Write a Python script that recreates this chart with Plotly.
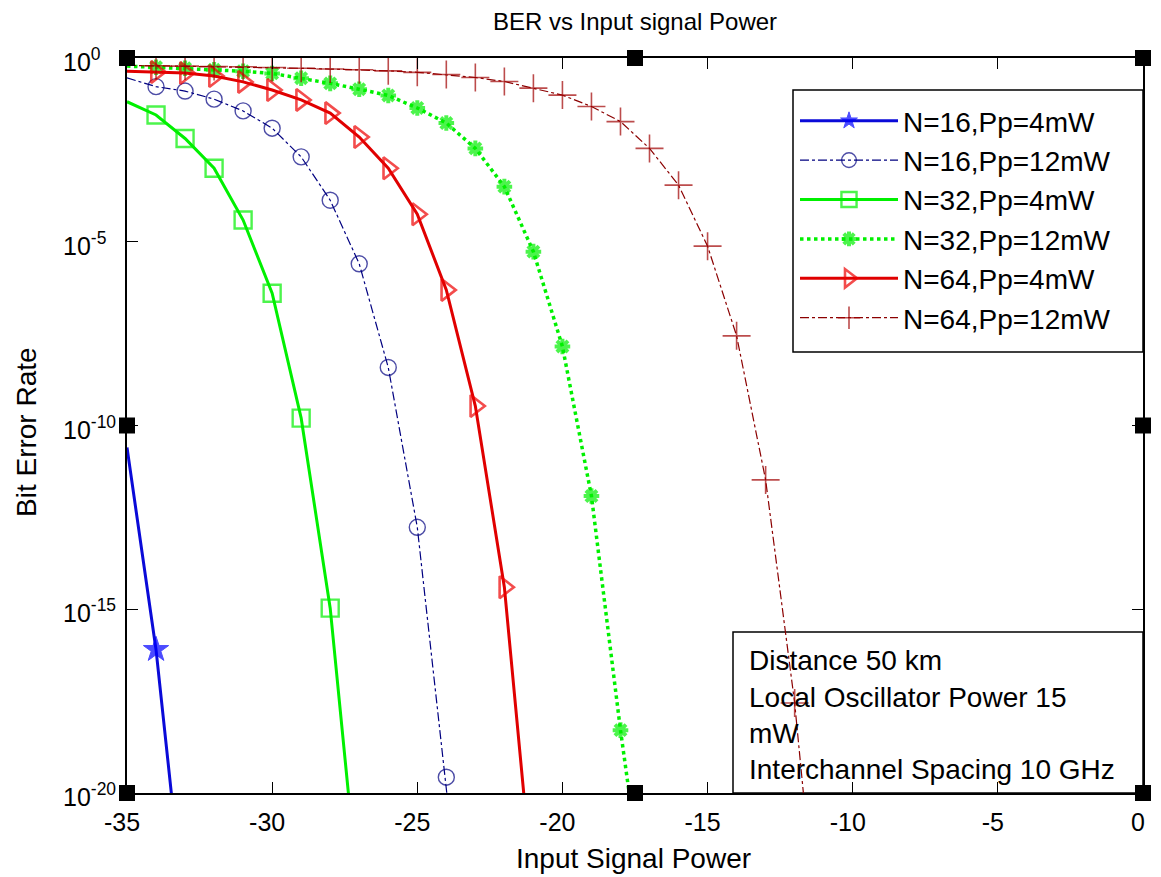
import plotly.graph_objects as go

# ---------------- data (x = input signal power, values = -log10(BER)) ----------------
x_power = [-35, -34, -33, -32, -31, -30, -29, -28, -27, -26, -25, -24, -23,
           -22, -21, -20, -19, -18, -17, -16, -15, -14, -13, -12, -11]

neglog_n16_p4 = [10.6, 16.1, 23.5]
neglog_n16_p12 = [0.54, 0.78, 0.90, 1.12, 1.44, 1.91, 2.69, 3.87, 5.6, 8.42, 12.77, 19.57, 27.0]
neglog_n32_p4 = [1.19, 1.55, 2.19, 3.0, 4.41, 6.4, 9.8, 14.97, 23.0]
neglog_n32_p12 = [0.22, 0.25, 0.28, 0.32, 0.36, 0.42, 0.55, 0.69, 0.85, 1.02, 1.36, 1.77,
                  2.46, 3.5, 5.27, 7.85, 11.92, 18.29, 24.0]
neglog_n64_p4 = [0.36, 0.38, 0.41, 0.49, 0.65, 0.87, 1.14, 1.50, 2.15, 3.0, 4.25, 6.31,
                 9.47, 14.4, 22.8]
neglog_n64_p12 = [0.20, 0.21, 0.22, 0.23, 0.24, 0.26, 0.28, 0.30, 0.32, 0.35, 0.39, 0.45,
                  0.53, 0.64, 0.82, 1.01, 1.32, 1.73, 2.46, 3.46, 5.12, 7.56, 11.48, 17.55, 25.7]

series_names = ["N=16,Pp=4mW", "N=16,Pp=12mW", "N=32,Pp=4mW",
                "N=32,Pp=12mW", "N=64,Pp=4mW", "N=64,Pp=12mW"]

ytick_exponents = [0, -5, -10, -15, -20]
ytick_text = ["10<sup>0</sup>", "10<sup>-5</sup>", "10<sup>-10</sup>",
              "10<sup>-15</sup>", "10<sup>-20</sup>"]
xtick_vals = [-35, -30, -25, -20, -15, -10, -5, 0]
xtick_text = ["-35", "-30", "-25", "-20", "-15", "-10", "-5", "0"]

info_lines = ["Distance 50 km", "Local Oscillator Power 15", "mW",
              "Interchannel Spacing 10 GHz"]

title_text = "BER vs Input signal Power"
xlabel_text = "Input Signal Power"
ylabel_text = "Bit Error Rate"

FONT = "Liberation Sans, Arial, sans-serif"

# plot area in pixels: left 127, right 1143, top 58, bottom 793
L, R, T, B = 127, 1143, 58, 793
PW, PH = R - L, B - T


def px_x(p):
    return (p - L) / PW


def px_y(p):
    return (B - p) / PH


styles = [
    dict(color="#0a0ad8", mcolor="#0000ff", width=3, dash="solid", symbol="star", size=19, mlw=1),
    dict(color="#000080", mcolor="#000080", width=1.2, dash="dashdot", symbol="circle-open", size=16, mlw=1.4),
    dict(color="#00f000", mcolor="#00f000", width=3, dash="solid", symbol="square-open", size=17, mlw=2.4),
    dict(color="#00f000", mcolor="#00f000", width=3.5, dash="dot", symbol="asterisk-open", size=13, mlw=4),
    dict(color="#e00000", mcolor="#ee0000", width=3, dash="solid", symbol="triangle-right-open", size=19, mlw=2.6),
    dict(color="#8b0000", mcolor="#a00000", width=1.2, dash="dashdot", symbol="cross-thin-open", size=20, mlw=1.6),
]
all_vals = [neglog_n16_p4, neglog_n16_p12, neglog_n32_p4, neglog_n32_p12, neglog_n64_p4, neglog_n64_p12]

fig = go.Figure()
for name, vals, st in zip(series_names, all_vals, styles):
    xs = x_power[:len(vals)]
    ys = [10 ** (-v) for v in vals]
    sizes = [0] + [st["size"]] * (len(vals) - 1)  # no marker drawn on the axis edge
    fig.add_trace(go.Scatter(
        x=xs, y=ys, mode="lines+markers", name=name,
        line=dict(color=st["color"], width=st["width"], dash=st["dash"]),
        marker=dict(symbol=st["symbol"], size=sizes, color=st["mcolor"],
                    line=dict(color=st["mcolor"], width=st["mlw"])),
        cliponaxis=True,
    ))

shapes = [
    # info box
    dict(type="rect", xref="paper", yref="paper", x0=px_x(733), x1=1.0, y0=0.0, y1=px_y(632),
         line=dict(color="black", width=1.5), fillcolor="rgba(0,0,0,0)", layer="below"),
    # legend box
    dict(type="rect", xref="paper", yref="paper", x0=px_x(793), x1=1.0, y0=px_y(352), y1=px_y(90),
         line=dict(color="black", width=1.5), fillcolor="white", layer="above"),
]
# figure-editing handles (black squares)
for hx, hy in [(0, 0), (0.5, 0), (1, 0), (0, 0.5), (1, 0.5), (0, 1), (0.5, 1), (1, 1)]:
    shapes.append(dict(type="rect", xref="paper", yref="paper",
                       xsizemode="pixel", ysizemode="pixel", xanchor=hx, yanchor=hy,
                       x0=-8, x1=8, y0=-8, y1=8, fillcolor="black", line=dict(width=0)))

annotations = []
for txt, ypx in zip(info_lines, [660, 697, 733, 769]):
    annotations.append(dict(text=txt, xref="paper", yref="paper",
                            x=px_x(747), y=px_y(ypx),
                            xanchor="left", yanchor="middle", showarrow=False,
                            font=dict(family=FONT, size=28, color="black")))
annotations.append(dict(text=xlabel_text, xref="paper", yref="paper", x=px_x(633), y=px_y(858),
                        xanchor="center", yanchor="middle", showarrow=False,
                        font=dict(family=FONT, size=28, color="black")))
annotations.append(dict(text=ylabel_text, xref="paper", yref="paper", x=px_x(26), y=px_y(432),
                        xanchor="center", yanchor="middle", showarrow=False, textangle=-90,
                        font=dict(family=FONT, size=28, color="black")))
# y tick labels (MATLAB style: base "10" left-aligned, exponent hanging right)
for e, txt in zip(ytick_exponents, ytick_text):
    annotations.append(dict(text=txt, xref="paper", yref="y", x=px_x(61), y=e,
                            xanchor="left", yanchor="middle", showarrow=False, yshift=-2,
                            font=dict(family=FONT, size=25, color="black")))

fig.update_layout(
    width=1161, height=877,
    margin=dict(l=L, r=1161 - R, t=T, b=877 - B),
    paper_bgcolor="white", plot_bgcolor="white",
    font=dict(family=FONT, color="black"),
    title=dict(text=title_text, x=635 / 1161, xanchor="center",
               y=1 - 22 / 877, yanchor="middle", font=dict(size=24, family=FONT)),
    xaxis=dict(range=[-35, 0], tickvals=xtick_vals, ticktext=xtick_text, ticks="inside",
               ticklen=11, tickcolor="black", showline=True, linecolor="black", linewidth=1.5,
               mirror="ticks", showgrid=False, zeroline=False, automargin=False,
               ticklabelshift=-5, ticklabelstandoff=6,
               tickfont=dict(size=25, family=FONT)),
    yaxis=dict(type="log", range=[-20, 0], tickvals=[10 ** e for e in ytick_exponents],
               showticklabels=False,
               ticks="inside", ticklen=11, tickcolor="black", showline=True,
               linecolor="black", linewidth=1.5, mirror="ticks", showgrid=False,
               zeroline=False, automargin=False),
    legend=dict(x=px_x(795), y=px_y(96), xanchor="left", yanchor="top",
                bgcolor="rgba(0,0,0,0)", borderwidth=0,
                font=dict(size=28, family=FONT), itemwidth=98, tracegroupgap=0),
    shapes=shapes, annotations=annotations, showlegend=True,
)

fig.write_html("out.html", config={"displayModeBar": False},
               post_script="document.body.style.margin='0px';")
